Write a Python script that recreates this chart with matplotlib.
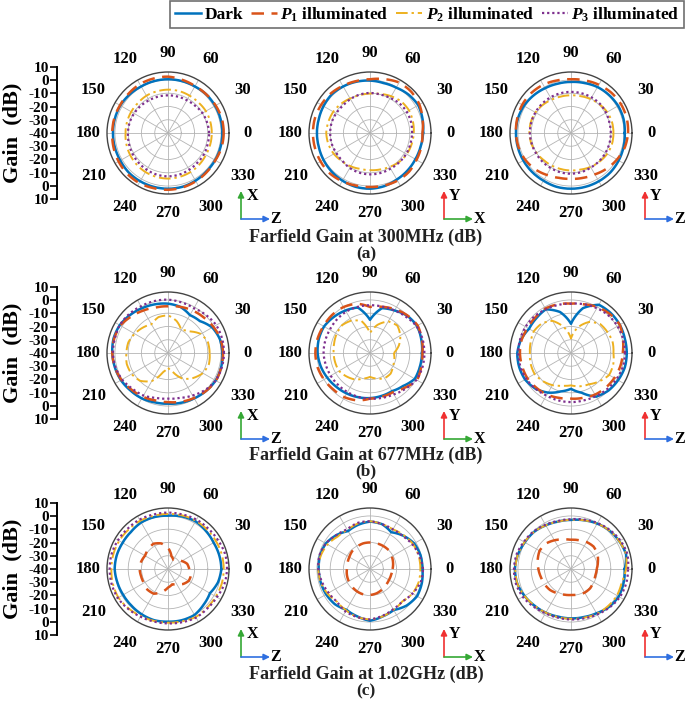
import numpy as np
import matplotlib
matplotlib.use('Agg')
import matplotlib.pyplot as plt
from matplotlib.lines import Line2D
from matplotlib.patches import FancyArrowPatch
from matplotlib.font_manager import FontProperties

plt.rcParams['font.family'] = ['Liberation Serif', 'DejaVu Serif']
plt.rcParams['font.weight'] = 'bold'
plt.rcParams['mathtext.fontset'] = 'custom'
plt.rcParams['mathtext.rm'] = 'Liberation Serif:bold'
plt.rcParams['mathtext.it'] = 'Liberation Serif:italic:bold'
plt.rcParams['mathtext.bf'] = 'Liberation Serif:bold'

# angles in degrees, gains in dB (every 15 deg)
ANGLES = list(range(0, 360, 15))

# (a) 300 MHz
A1_DARK = [1, 1, 1, 1, 0.5, 0.5, 0.5, 0.5, 0.5, 1, 1.5, 1.5, 1.5, 1.5, 1.5, 2, 2, 2, 2, 2, 1.5, 1, 1, 1]
A1_P1 = [2, 2, 1.5, 1, 0.8, 1.5, 2.5, 2.5, 2.5, 2, 1.8, 2, 2, 2.5, 3, 3.5, 3.5, 3, 2.8, 2.5, 2, 1.5, 1.2, 1.8]
A1_P2 = [-7, -7, -7, -7.5, -7.5, -7.3, -7.3, -7.5, -7.5, -8, -8, -8, -8, -7.5, -7, -6.5, -6, -5.8, -5.6, -5.8, -6, -6.5, -7, -7]
A1_P3 = [-9, -9.5, -10, -11, -11.5, -11.6, -11.6, -11.6, -11.5, -11, -10.5, -10, -9.8, -9.5, -9, -8.5, -8, -7.5, -7.3, -7.5, -8, -8.5, -8.5, -9]

A2_DARK = [0, 1, 2, 1, -0.5, -1, -0.5, 0, 0.5, 1, 0.5, 0, 0, 0, 0.5, 1, 1.5, 2, 2, 1.5, 0.5, 0, -0.5, -0.5]
A2_P1 = [-0.5, 1, 3, 4, 4, 2, 0.5, 0.5, 1, 2, 2.5, 3, 3, 3, 3, 3, 2, 1, 0.7, 1, 1.5, 1.5, 0.5, 0]
A2_P2 = [-7, -6.5, -6, -6.5, -8, -9.5, -10.3, -10.5, -10, -9, -8, -7.5, -7, -7.5, -8.5, -10, -11, -12, -12, -11.5, -10.5, -9, -8, -7.5]
A2_P3 = [-8.3, -8, -8, -8.5, -9.5, -10, -9.8, -10, -10.5, -11, -10.5, -10, -10, -10, -10.5, -10.5, -9.5, -9, -8.8, -8.8, -9, -8.8, -8.5, -8.5]

A3_DARK = [0.5, 1, 1, 0.5, 0, -1, -1.5, -1.5, -1, 0, 1, 1.5, 1.5, 1.5, 1.5, 1.5, 1.5, 2, 2, 2, 2, 2, 1.5, 1]
A3_P1 = [3, 3.5, 3.5, 3, 2, 1, 0.5, 1, 2, 2.5, 2.5, 2, 1.5, 1, 0, -1.5, -3.5, -5, -5.5, -5, -4, -2, 0, 2]
A3_P2 = [-8, -8, -8.5, -9.5, -10.5, -11.3, -11.6, -11.5, -11, -10, -9, -8.6, -8.6, -9, -10, -11, -11.5, -11.8, -11.8, -11.5, -10.5, -9.5, -8.5, -8]
A3_P3 = [-10, -10, -9.5, -9, -9, -9, -9, -9, -9, -9, -9, -9, -9, -9.3, -9.5, -9.5, -9.5, -9.3, -9.3, -9.5, -10, -10, -10, -10]

# (b) 677 MHz
B1_DARK = [1, 0.5, -1.5, -6, -7, -4, -2.8, -2, -1, 0.5, 2, 2.5, 2, 1.5, 1, 0, -0.5, -1.5, -1.8, -1.2, -0.5, 0.5, 1.5, 1.5]
B1_P1 = [1.5, 1, -0.5, -2, -3, -4, -4.8, -4.5, -3, -1, 1.5, 2, 2, 1.5, 0.5, -1, -2, -3, -3, -2, -0.8, 0.5, 1.8, 1.5]
B1_P2 = [-8.6, -8.8, -11.3, -17, -20, -15, -11.6, -12, -15, -13, -11, -9, -8.6, -7.8, -8.3, -10.3, -15.6, -25, -29, -25, -17.6, -13.3, -9.6, -8]
B1_P3 = [2.2, 2.2, 2, 0.5, -1, -0.5, 0.2, 0.5, 0.7, 1.5, 2, 1.5, 1.5, 1, 0, -2, -3, -5, -5.6, -5, -3, -0.5, 1.5, 2]

B2_DARK = [-0.8, 0, 1, -0.3, -3, -5, -15, -4.5, -3, -1.5, 0, 0, -0.5, -1.5, -2.8, -4, -4.8, -5.5, -6, -6.5, -6.8, -4.8, -1, -1]
B2_P1 = [-0.5, 0.5, 1.5, 0, -2, -4, -5.3, -1.5, 0, 0.5, 0.5, 1, 1.2, 1, 0, -1, -1.5, -3, -5.6, -5.8, -5.8, -3, 1, 0]
B2_P2 = [-22, -17.4, -13.6, -10.8, -12.5, -18, -25, -15, -11.8, -10.3, -11, -12, -12.6, -12.8, -13, -15, -17, -20, -22, -20, -18, -18, -20, -21]
B2_P3 = [1, 1, 0.5, -1.5, -3, -3.8, -4, -4, -4, -4.5, -5, -5, -5, -5.5, -5.8, -6, -6, -5.8, -5.6, -5, -4, -2, 0.5, 1]

B3_DARK = [2, 2, 2.5, 2.5, 2, -5, -18, -8, -2, -3, -3.5, -1, 0.5, 0.5, 0, -2, -5.5, -10, -13, -9, -2, 0, 1, 2]
B3_P1 = [-1, 0.5, 2.5, 1.5, 0, -2, -2.8, -2, -1.3, -2, -2.3, -1.5, -1.5, -1.8, -2, -3, -3.8, -5, -5.6, -5, -3.8, -3, -2.3, -1.5]
B3_P2 = [-8, -7.5, -8.3, -9, -13, -20, -29, -20, -12, -8.6, -7.5, -8.5, -9, -8.5, -8.3, -10, -12, -14.5, -15.6, -14, -12.8, -9.8, -6.8, -7]
B3_P3 = [0.7, 0.7, 0.5, 0, -1, -2, -2.8, -2.5, -2, -1, -0.5, -0.3, -0.3, -0.5, -1, -2, -3, -3, -3, -3, -2.5, -1.5, -0.5, 0.5]

# (c) 1.02 GHz
C1_DARK = [0.2, 0, -0.3, 0.5, 1.5, 1, 0.2, 0.5, 0.5, -0.5, -0.5, 0, 0.2, -0.5, -1, -1, -0.5, 0, -0.3, 0, 0, -2, -3.5, -1]
C1_P1 = [-24, -25, -28, -31, -32, -30, -24, -20, -18, -19, -20, -19, -18.6, -19, -19, -18, -18.5, -22, -26, -28, -27, -24, -22, -22]
C1_P2 = [2, 2, 1.8, 1.8, 2, 1.8, 1.5, 1.5, 2, 2, 2.5, 2.7, 2.7, 3, 3.2, 2, 1, 0.5, 0.5, 0.8, 1.8, 1.5, 1.5, 2]
C1_P3 = [4.5, 4.5, 3.5, 3, 3, 2.5, 2.5, 2.5, 3, 3, 3.5, 4, 4, 4, 3.7, 2.5, 1.5, 1, 1, 1.5, 2.3, 2, 2.5, 4]

C2_DARK = [-0.5, -0.5, -1.5, -4.5, -8, -5, -4.3, -5.5, -7, -4, -1.5, -1, -1.3, -1.5, -1.8, -2.5, -4.5, -3, -1, -3, -4.3, -1, 1, 0.5]
C2_P1 = [-23, -22, -21, -20, -20, -20, -20, -20, -20.5, -21, -22, -22.5, -22.6, -22, -21.5, -21, -20.5, -20.2, -20.4, -21, -22, -23, -23.5, -23.5]
C2_P2 = [-2, -2, -2.5, -4, -5.5, -5, -4, -4.5, -6, -5.5, -3, -1.5, -1, -1.5, -3, -5, -4, -2.5, -2, -3, -4.5, -5.5, -3, -2]
C2_P3 = [0, -1.5, -3, -5, -5.5, -5, -4, -4, -5.5, -4, -1.5, -0.5, -1, -2.5, -4, -5, -3, -2.5, -2, -3.5, -5, -5.5, -3, -0.5]

C3_DARK = [0.5, 3, 2, 1, -0.5, -2, -3, -3, -2, -0.5, 0.2, 1.5, 2.3, 2, 0.5, -1, -2, -2.8, -2.8, -2.5, -1.5, 0.5, 1.5, 1]
C3_P1 = [-20.6, -19, -17, -16, -16.5, -17.5, -18, -17, -15, -13, -12.6, -14, -15.4, -16.5, -17, -17.6, -19, -20, -20.4, -20, -19.4, -19.5, -20.5, -21]
C3_P2 = [1.5, 3, 2, 1, -0.5, -2, -3, -3, -2, -0.5, 0.5, 1.5, 2, 2, 0.5, -1, -2, -2.5, -2.5, -2, -1, -0.5, 0, -0.5]
C3_P3 = [3, 4, 3, 1.5, 0, -1.5, -2.5, -2.5, -1.5, 0, 1, 2.5, 3, 3, 2, 0, -1.5, -2, -2, -1.5, -0.5, 1, 2.5, 3]

PANELS = [
    [(A1_DARK, A1_P1, A1_P2, A1_P3), (A2_DARK, A2_P1, A2_P2, A2_P3), (A3_DARK, A3_P1, A3_P2, A3_P3)],
    [(B1_DARK, B1_P1, B1_P2, B1_P3), (B2_DARK, B2_P1, B2_P2, B2_P3), (B3_DARK, B3_P1, B3_P2, B3_P3)],
    [(C1_DARK, C1_P1, C1_P2, C1_P3), (C2_DARK, C2_P1, C2_P2, C2_P3), (C3_DARK, C3_P1, C3_P2, C3_P3)],
]

SERIES_LABELS = ['Dark', r'$P_{\mathit{1}}$ illuminated', r'$P_{\mathit{2}}$ illuminated', r'$P_{\mathit{3}}$ illuminated']
CAPTIONS = ['Farfield Gain at 300MHz (dB)', 'Farfield Gain at 677MHz (dB)', 'Farfield Gain at 1.02GHz (dB)']
TAGS = ['(a)', '(b)', '(c)']
SCALE_TICKS = [10, 0, -10, -20, -30, -40, -30, -20, -10, 0, 10]
AXIS_PAIRS = [('X', 'Z'), ('Y', 'X'), ('Y', 'Z')]

STYLES = [
    dict(color='#0072BD', lw=1.8, ls='-'),
    dict(color='#D95319', lw=1.8, ls=(0, (5, 3))),
    dict(color='#EDB120', lw=1.4, ls=(0, (6, 2, 1.2, 2))),
    dict(color='#7E2F8E', lw=1.6, ls=(0, (1, 1.3))),
]
AXIS_COLORS = {'X': '#35a835', 'Y': '#f03030', 'Z': '#2f6fe0'}

W, H = 685, 703
R = 61
RMAX = 46  # outer ring = +6 dB, centre = -40 dB
COL_X = [168, 370, 571]
ROW_Y = [133, 353, 569]
ARROW_X = [241, 444, 645]
ARROW_Y = [219, 439, 657]
CAP_Y = [237, 455, 674]
TAG_Y = [254, 471, 691]


def fx(px):
    return px / W


def fy(py):
    return 1 - py / H


fig = plt.figure(figsize=(6.85, 7.03), dpi=100)
theta = np.deg2rad(ANGLES + [360])

for i, cy in enumerate(ROW_Y):
    for j, cx in enumerate(COL_X):
        ax = fig.add_axes([fx(cx - R), fy(cy + R), 2 * R / W, 2 * R / H], projection='polar')
        for vals, st in zip(PANELS[i][j], STYLES):
            r = np.array(vals + [vals[0]]) + 40
            line, = ax.plot(theta, r, color=st['color'], lw=st['lw'], ls=st['ls'])
            # let the polar transform bend each segment instead of drawing chords
            line.get_path()._interpolation_steps = 24
        ax.set_rlim(0, RMAX)
        ax.set_yticks([10, 20, 30, 40])
        ax.set_yticklabels([])
        ax.set_xticks(np.deg2rad(np.arange(0, 360, 30)))
        ax.set_xticklabels([])
        ax.grid(color='#b4b4b4', lw=0.6)
        ax.spines['polar'].set_color('#444444')
        ax.spines['polar'].set_linewidth(1.0)
        for a in range(0, 360, 30):
            rr = RMAX * (80 / R if a % 90 == 0 else 86 / R)
            ax.text(np.deg2rad(a), rr, str(a), ha='center', va='center',
                    fontsize=12, fontweight='bold', clip_on=False)

        # coordinate indicator
        ox, oy = ARROW_X[j], ARROW_Y[i]
        up, right = AXIS_PAIRS[j]
        fig.add_artist(FancyArrowPatch((fx(ox), fy(oy)), (fx(ox), fy(oy - 28)), transform=fig.transFigure,
                                       arrowstyle='-|>', mutation_scale=9, color=AXIS_COLORS[up], lw=1.2,
                                       shrinkA=0, shrinkB=0))
        fig.add_artist(FancyArrowPatch((fx(ox), fy(oy)), (fx(ox + 29), fy(oy)), transform=fig.transFigure,
                                       arrowstyle='-|>', mutation_scale=9, color=AXIS_COLORS[right], lw=1.2,
                                       shrinkA=0, shrinkB=0))
        fig.text(fx(ox + 11), fy(oy - 23), up, ha='center', va='center', fontsize=11.5, fontweight='bold')
        fig.text(fx(ox + 35), fy(oy), right, ha='center', va='center', fontsize=11.5, fontweight='bold')

    # left gain scale
    sax = fig.add_axes([fx(57), fy(cy + 66), 0.0005, 132 / H])
    sax.set_ylim(-50, 50)
    sax.set_yticks(np.arange(50, -51, -10))
    sax.set_yticklabels([str(v) for v in SCALE_TICKS])
    sax.set_xticks([])
    for s in ['right', 'top', 'bottom']:
        sax.spines[s].set_visible(False)
    sax.spines['left'].set_linewidth(1.4)
    sax.tick_params(axis='y', length=5, width=1.2, pad=1, labelsize=11)
    sax.patch.set_visible(False)
    fig.text(fx(12), fy(cy), 'Gain  (dB)', rotation=90, ha='center', va='center',
             fontsize=16, fontweight='bold')

    fig.text(fx(366), fy(CAP_Y[i]), CAPTIONS[i], ha='center', va='center', fontsize=13, fontweight='bold',
             color='#222222')
    fig.text(fx(366), fy(TAG_Y[i]), TAGS[i], ha='center', va='center', fontsize=12.5, fontweight='bold',
             color='#222222')

handles = [Line2D([], [], color=st['color'], lw=st['lw'], ls=st['ls']) for st in STYLES]
leg = fig.legend(handles, SERIES_LABELS, loc='upper right', bbox_to_anchor=(fx(684), fy(1)), ncol=4,
                 frameon=True, fancybox=False, edgecolor='#707070', framealpha=1,
                 prop=FontProperties(family='Liberation Serif', weight='bold', size=12.5),
                 handlelength=1.5, handletextpad=0.2, columnspacing=0.45, borderpad=0.25, borderaxespad=0)
leg.get_frame().set_linewidth(1.2)

fig.savefig('out.png', dpi=100)
